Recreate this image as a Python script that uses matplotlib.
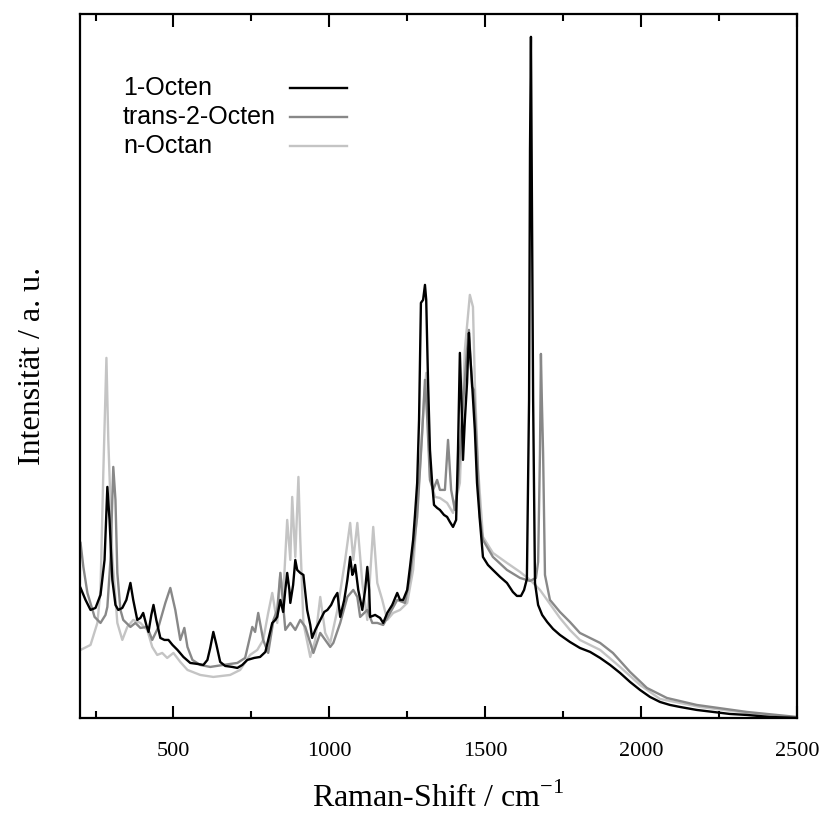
import matplotlib
matplotlib.use("Agg")
import matplotlib.pyplot as plt
from matplotlib.ticker import MultipleLocator

# Spectra (Raman shift in cm^-1, intensity in a.u.)
octen_x = [202, 218, 234, 250, 266, 279, 288, 295, 304, 314, 323, 336, 349, 362, 371, 384, 394,
           403, 413, 420, 429, 436, 445, 458, 471, 484, 497, 513, 532, 554, 577, 596, 609, 618,
           628, 638, 650, 666, 689, 705, 721, 737, 759, 778, 795, 804, 817, 827, 833, 843, 852,
           859, 865, 872, 875, 884, 891, 897, 907, 917, 929, 939, 945, 955, 971, 984, 994, 1006,
           1016, 1026, 1035, 1048, 1058, 1067, 1074, 1077, 1083, 1093, 1106, 1115, 1122, 1128,
           1131, 1147, 1163, 1173, 1186, 1202, 1218, 1227, 1237, 1250, 1259, 1269, 1275, 1282,
           1288, 1294, 1301, 1307, 1311, 1317, 1323, 1330, 1336, 1346, 1355, 1368, 1378, 1387,
           1397, 1407, 1413, 1419, 1426, 1429, 1435, 1442, 1448, 1451, 1458, 1467, 1474, 1483,
           1493, 1509, 1525, 1548, 1570, 1589, 1602, 1615, 1625, 1634, 1641, 1644, 1647, 1650,
           1654, 1660, 1670, 1683, 1699, 1718, 1740, 1772, 1804, 1837, 1869, 1901, 1933, 1965,
           1997, 2029, 2061, 2093, 2125, 2179, 2231, 2285, 2340, 2413, 2500]
octen_y = [130, 118, 108, 110, 123, 158, 231, 198, 138, 113, 108, 110, 118, 135, 118, 98, 100,
           105, 93, 86, 103, 113, 98, 80, 78, 78, 73, 68, 61, 55, 54, 53, 58, 70,
           86, 73, 56, 52, 51, 50, 53, 58, 60, 61, 66, 78, 95, 98, 101, 118, 106,
           128, 145, 128, 115, 133, 158, 148, 145, 143, 108, 93, 80, 88, 98, 106, 108, 113,
           120, 125, 101, 118, 138, 161, 143, 145, 153, 128, 108, 128, 151, 128,
           101, 103, 100, 95, 105, 113, 125, 118, 118, 128, 151, 178, 203, 235,
           298, 415, 418, 433, 418, 335, 268, 235, 213, 210, 208, 203, 201, 196,
           191, 198, 268, 365, 298, 258, 298, 335, 385, 368, 335, 288, 235, 198,
           161, 153, 148, 141, 135, 126, 122, 122, 128, 139, 318, 568, 681, 518,
           318, 135, 113, 103, 96, 89, 83, 76, 70, 66, 60, 53, 45, 36,
           28, 21, 16, 13, 11, 8, 6, 4, 3, 1, 0]

trans_x = [202, 211, 224, 247, 266, 282, 288, 298, 307, 314, 320, 330, 339, 362, 378, 394, 416,
           432, 452, 474, 490, 506, 522, 535, 545, 561, 586, 618, 660, 705, 730, 753, 762, 772,
           788, 804, 821, 833, 843, 859, 875, 891, 907, 923, 939, 949, 971, 987, 1003, 1013,
           1035, 1058, 1077, 1090, 1099, 1122, 1138, 1154, 1173, 1195, 1218, 1243, 1259, 1282,
           1298, 1307, 1314, 1323, 1333, 1346, 1355, 1371, 1381, 1391, 1403, 1413, 1426, 1442,
           1448, 1458, 1464, 1474, 1483, 1493, 1525, 1570, 1612, 1644, 1663, 1670, 1676, 1679,
           1682, 1686, 1692, 1708, 1740, 1772, 1804, 1869, 1910, 1965, 2019, 2083, 2179, 2340,
           2500]
trans_y = [175, 151, 125, 101, 95, 103, 111, 158, 251, 218, 145, 108, 98, 91, 95, 90, 91,
           78, 91, 115, 130, 108, 78, 90, 71, 58, 53, 51, 53, 55, 60, 91, 86, 105,
           78, 65, 98, 108, 145, 88, 95, 88, 98, 91, 75, 65, 85, 78, 71, 75,
           95, 121, 128, 121, 101, 108, 95, 95, 93, 105, 118, 115, 141, 201,
           285, 338, 301, 238, 228, 238, 228, 228, 278, 228, 208, 235, 301, 368,
           388, 331, 328, 268, 201, 178, 161, 148, 140, 137, 140, 156, 265, 364,
           318, 265, 143, 118, 106, 96, 85, 75, 65, 46, 30, 20, 13, 6,
           1]

octan_x = [202, 234, 256, 266, 275, 285, 291, 304, 320, 336, 352, 371, 394, 416, 432, 448, 464,
           480, 500, 522, 545, 586, 628, 682, 714, 746, 769, 788, 804, 817, 833, 843, 852, 865,
           875, 881, 891, 901, 907, 917, 939, 955, 971, 987, 1003, 1026, 1051, 1067, 1077, 1090,
           1106, 1122, 1141, 1154, 1170, 1186, 1205, 1227, 1250, 1269, 1291, 1304, 1311, 1317,
           1323, 1339, 1355, 1378, 1397, 1419, 1435, 1451, 1461, 1467, 1477, 1493, 1525, 1570,
           1612, 1644, 1676, 1708, 1740, 1772, 1804, 1869, 1933, 1997, 2061, 2125, 2189, 2340,
           2500]
octan_y = [68, 73, 95, 128, 245, 360, 278, 161, 95, 78, 91, 98, 95, 88, 71, 63, 65,
           60, 65, 56, 48, 43, 41, 43, 48, 63, 68, 78, 105, 125, 95, 145, 121, 198,
           158, 221, 161, 241, 178, 95, 61, 78, 121, 85, 75, 108, 158, 195, 158, 195,
           135, 98, 191, 135, 118, 98, 105, 108, 115, 148, 251, 318, 345, 301,
           241, 221, 220, 215, 205, 235, 368, 423, 411, 335, 251, 181, 165, 155,
           146, 138, 128, 114, 100, 88, 78, 68, 51, 33, 19, 15, 11, 5,
           0]

labels = ["1-Octen", "trans-2-Octen", "n-Octan"]
colors = ["#000000", "#888888", "#c4c4c4"]

plt.rcParams["font.family"] = ["Liberation Serif", "DejaVu Serif"]
plt.rcParams["mathtext.fontset"] = "custom"
plt.rcParams["mathtext.rm"] = "Liberation Serif"

fig = plt.figure(figsize=(8.24, 8.14), dpi=100)
ax = fig.add_axes([0.097, 0.118, 0.870, 0.865])

# draw lightest first so the darker ones sit on top
ax.plot(octan_x, octan_y, color=colors[2], lw=1.7)
ax.plot(trans_x, trans_y, color=colors[1], lw=1.7)
ax.plot(octen_x, octen_y, color=colors[0], lw=1.7)

ax.set_xlim(200, 2500)
ax.set_ylim(0, 704)

ax.xaxis.set_major_locator(MultipleLocator(500))
ax.xaxis.set_minor_locator(MultipleLocator(250))
ax.tick_params(axis="x", which="both", direction="in", top=True, labelsize=16, pad=17)
ax.tick_params(axis="x", which="major", length=9, width=1.5)
ax.tick_params(axis="x", which="minor", length=5, width=1.5)
ax.set_yticks([])
for s in ax.spines.values():
    s.set_linewidth(1.6)

ax.set_xlabel(r"Raman-Shift / cm$^{-1}$", fontsize=23, labelpad=16)
ax.set_ylabel("Intensität / a. u.", fontsize=23, labelpad=24)

# legend: names on the left, sample lines on the right
rows_y = [0.895, 0.854, 0.8125]
for name, c, yy in zip(labels, colors, rows_y):
    ax.text(0.06, yy, name, transform=ax.transAxes, fontsize=18,
            family=["Liberation Sans", "DejaVu Sans"], va="center", ha="left")
    ax.plot([0.293, 0.372], [yy, yy], transform=ax.transAxes, color=c, lw=1.7)

fig.savefig("out.png", dpi=100)
